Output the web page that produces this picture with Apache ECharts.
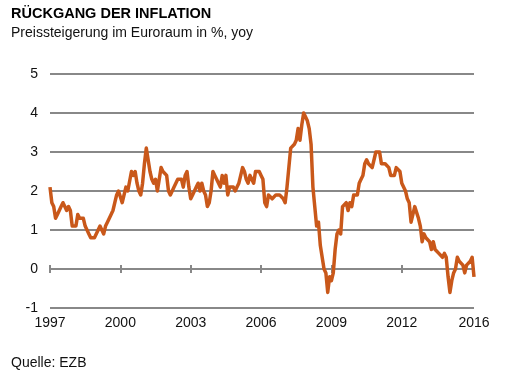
<!DOCTYPE html>
<html>
<head>
<meta charset="utf-8">
<script src="https://cdn.jsdelivr.net/npm/echarts@6/dist/echarts.min.js"></script>
<style>
html,body{margin:0;padding:0;background:#fff;}
#chart{width:519px;height:378px;}
</style>
</head>
<body>
<div id="chart"></div>
<script>
// Monthly euro area inflation, Jan 1997 - Feb 2016 (% yoy)
var inflation = [
  // 1997
  2.1, 1.7, 1.6, 1.3, 1.4, 1.4, 1.6, 1.7, 1.6, 1.5, 1.6, 1.5,
  // 1998
  1.1, 1.1, 1.1, 1.4, 1.3, 1.3, 1.3, 1.1, 1.0, 0.9, 0.8, 0.8,
  // 1999
  0.8, 0.8, 1.0, 1.1, 1.0, 0.9, 1.1, 1.2, 1.2, 1.4, 1.5, 1.7,
  // 2000
  1.9, 2.0, 2.0, 1.7, 1.7, 2.1, 2.0, 2.0, 2.5, 2.4, 2.5, 2.2,
  // 2001
  2.0, 1.9, 2.2, 2.7, 3.1, 2.8, 2.5, 2.3, 2.2, 2.3, 2.0, 2.0,
  // 2002
  2.6, 2.5, 2.5, 2.4, 2.0, 1.9, 2.0, 2.1, 2.1, 2.3, 2.3, 2.3,
  // 2003
  2.1, 2.4, 2.5, 2.1, 1.8, 1.9, 1.9, 2.1, 2.2, 2.0, 2.2, 2.0,
  // 2004
  1.9, 1.6, 1.7, 2.0, 2.5, 2.4, 2.3, 2.3, 2.1, 2.4, 2.2, 2.4,
  // 2005
  1.9, 2.1, 2.1, 2.1, 2.0, 2.1, 2.2, 2.2, 2.6, 2.5, 2.3, 2.2,
  // 2006
  2.4, 2.3, 2.2, 2.5, 2.5, 2.5, 2.4, 2.3, 1.7, 1.6, 1.9, 1.9,
  // 2007
  1.8, 1.8, 1.9, 1.9, 1.9, 1.9, 1.8, 1.7, 2.1, 2.6, 3.1, 3.1,
  // 2008
  3.2, 3.3, 3.6, 3.3, 3.7, 4.0, 4.0, 3.8, 3.6, 3.2, 2.1, 1.6,
  // 2009
  1.1, 1.2, 0.6, 0.6, 0.0, -0.1, -0.6, -0.2, -0.3, -0.1, 0.5, 0.9,
  // 2010
  1.0, 0.9, 1.6, 1.6, 1.7, 1.5, 1.7, 1.6, 1.9, 1.9, 1.9, 2.2,
  // 2011
  2.3, 2.4, 2.7, 2.8, 2.7, 2.7, 2.6, 2.6, 3.0, 3.0, 3.0, 2.7,
  // 2012
  2.7, 2.7, 2.7, 2.6, 2.4, 2.4, 2.4, 2.6, 2.6, 2.5, 2.2, 2.2,
  // 2013
  2.0, 1.8, 1.7, 1.2, 1.4, 1.6, 1.6, 1.3, 1.1, 0.7, 0.9, 0.8,
  // 2014
  0.8, 0.7, 0.5, 0.7, 0.5, 0.5, 0.4, 0.4, 0.3, 0.4, 0.3, -0.2,
  // 2015
  -0.6, -0.3, -0.1, 0.0, 0.3, 0.2, 0.2, 0.1, -0.1, 0.1, 0.1, 0.2,
  // 2016
  0.3, -0.2
];

// Month categories
var months = [];
for (var i = 0; i < inflation.length; i++) {
  var y = 1997 + Math.floor(i / 12);
  var m = (i % 12) + 1;
  months.push(y + '-' + (m < 10 ? '0' + m : m));
}

// Tick labels and the category indices at which they are drawn
var tickLabels = ['1997', '2000', '2003', '2006', '2009', '2012', '2016'];
var tickIndices = [0, 38, 76, 114, 152, 190, 229];
var tickMarkIndices = [0, 38, 76, 114, 152, 190];

var yTicks = { min: -1, max: 5, interval: 1 };

var textColor = '#111';
var gridColor = '#888';
var lineColor = '#C9581A';
var fontFam = '"Liberation Sans", Arial, sans-serif';

var chart = echarts.init(document.getElementById('chart'), null, { renderer: 'canvas' });

function zeroAxis(inside) {
  return {
    type: 'category',
    data: months,
    boundaryGap: false,
    position: 'bottom',
    axisLine: { show: true, onZero: true, onZeroAxisIndex: 0, lineStyle: { color: gridColor, width: 2 } },
    axisTick: {
      show: true,
      inside: inside,
      length: 4,
      interval: function (idx) { return tickMarkIndices.indexOf(idx) >= 0; },
      lineStyle: { color: gridColor, width: 2 }
    },
    axisLabel: { show: false },
    splitLine: { show: false }
  };
}

chart.setOption({
  animation: false,
  backgroundColor: '#fff',
  title: [
    {
      text: 'RÜCKGANG DER INFLATION',
      left: 11, top: 6, padding: 0,
      textStyle: { fontFamily: fontFam, fontSize: 14.5, fontWeight: 'bold', color: '#000', lineHeight: 16 }
    },
    {
      text: 'Preissteigerung im Euroraum in %, yoy',
      left: 11, top: 25, padding: 0,
      textStyle: { fontFamily: fontFam, fontSize: 14, fontWeight: 'normal', color: '#111', lineHeight: 16 }
    },
    {
      text: 'Quelle: EZB',
      left: 11, top: 355, padding: 0,
      textStyle: { fontFamily: fontFam, fontSize: 14, fontWeight: 'normal', color: '#111', lineHeight: 16 }
    }
  ],
  grid: { left: 50, right: 45, top: 74, bottom: 70, containLabel: false },
  xAxis: [
    {
      type: 'category',
      data: months,
      boundaryGap: false,
      position: 'bottom',
      axisLine: { show: false, onZero: false },
      axisTick: { show: false },
      axisLabel: {
        show: true,
        margin: 8,
        interval: function (idx) { return tickIndices.indexOf(idx) >= 0; },
        formatter: function (val, idx) {
          var k = tickIndices.indexOf(idx);
          return k >= 0 ? tickLabels[k] : '';
        },
        color: textColor,
        fontFamily: fontFam,
        fontSize: 14
      },
      splitLine: { show: false }
    },
    zeroAxis(false),
    zeroAxis(true)
  ],
  yAxis: {
    type: 'value',
    min: yTicks.min,
    max: yTicks.max,
    interval: yTicks.interval,
    axisLine: { show: false },
    axisTick: { show: false },
    axisLabel: { color: textColor, fontFamily: fontFam, fontSize: 14, margin: 12 },
    splitLine: { show: true, lineStyle: { color: gridColor, width: 2 } }
  },
  series: [
    {
      type: 'line',
      data: inflation,
      xAxisIndex: 0,
      yAxisIndex: 0,
      symbol: 'none',
      smooth: false,
      lineStyle: { color: lineColor, width: 3.5, join: 'round' },
      z: 5
    }
  ]
});
</script>
</body>
</html>
